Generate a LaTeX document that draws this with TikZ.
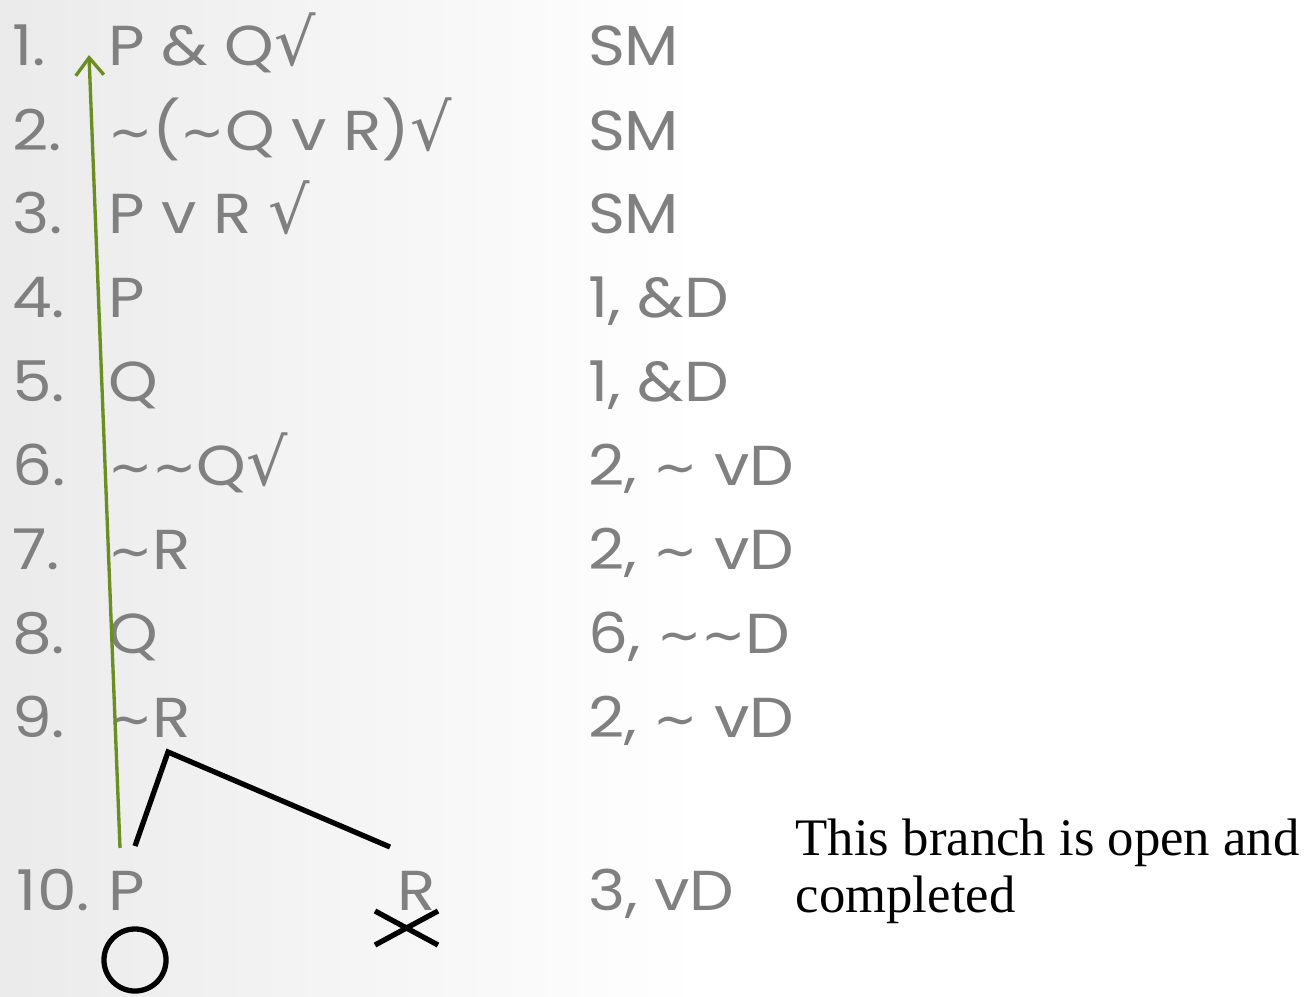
\documentclass[tikz,border=0pt]{standalone}
\usepackage{fontspec}
\setmainfont{Poppins}[FakeStretch=1.12]
\newfontfamily\djv{DejaVu Sans}
\newfontfamily\serifnote{Liberation Serif}
\usetikzlibrary{arrows.meta}
\definecolor{txtgray}{HTML}{808080}
\definecolor{arrgreen}{HTML}{6B8E23}
\newcommand{\chk}{{\djv\fontsize{18.5}{18}\selectfont √}}
\newcommand{\tl}{{\djv\fontsize{15}{18}\selectfont ∼}}
\tikzset{
  row/.style={anchor=base west, inner sep=0pt, outer sep=0pt, text=txtgray, font=\fontsize{16}{19}\selectfont},
  branchline/.style={line width=1.5pt, black},
  closemark/.style={line width=1.5pt, black},
  greenarrow/.style={line width=0.95pt, arrgreen, -{Straight Barb[length=5pt,width=8pt]}},
}
\begin{document}
\begin{tikzpicture}[x=0.01cm,y=-0.01cm]
\useasboundingbox (0,0) rectangle (1305,996);
\fill[white] (0,0) rectangle (1305,996);
\shade[left color=black!8, right color=white] (0,0) rectangle (700,996);
% line numbers
\foreach \i/\y in {1/65,2/150,3/233,4/317,5/401,6/485,7/569,8/653,9/737}{
  \node[row] (n\i) at (12,\y) {\i.};
}
\node[row] (n10) at (17,910) {10.};
% formulas
\node[row] (f1) at (108,65) {P \& Q\chk};
\node[row] (f2) at (108,150) {\tl(\tl Q v R)\chk};
\node[row] (f3) at (108,233) {P v R \chk};
\node[row] (f4) at (108,317) {P};
\node[row] (f5) at (108,401) {Q};
\node[row] (f6) at (108,485) {\tl\tl Q\chk};
\node[row] (f7) at (108,569) {\tl R};
\node[row] (f8) at (108,653) {Q};
\node[row] (f9) at (108,737) {\tl R};
\node[row] (f10a) at (108,910) {P};
\node[row] (f10b) at (397,910) {R};
% justifications
\node[row] (j1) at (588,65) {SM};
\node[row] (j2) at (588,150) {SM};
\node[row] (j3) at (588,233) {SM};
\node[row] (j4) at (588,317) {1, \&D};
\node[row] (j5) at (588,401) {1, \&D};
\node[row] (j6) at (588,485) {2, \tl{} vD};
\node[row] (j7) at (588,569) {2, \tl{} vD};
\node[row] (j8) at (588,653) {6, \tl\tl D};
\node[row] (j9) at (588,737) {2, \tl{} vD};
\node[row] (j10) at (588,910) {3, vD};
% note
\node[anchor=base west, inner sep=0pt, align=left, font=\serifnote\fontsize{15}{16.2}\selectfont] (note) at (795,912) {This branch is open and\\completed};
% branch
\coordinate (bl) at (135,846);
\coordinate (top) at (168,752);
\coordinate (br) at (390,847);
\draw[branchline] (bl) -- (top) -- (br);
% green arrow
\coordinate (gs) at (120,848);
\coordinate (ge) at (89,55);
\draw[greenarrow] (gs) -- (ge);
% open marker
\node[draw, circle, line width=1.5pt, inner sep=0pt, minimum size=0.62cm] (open) at (135,960) {};
% closed marker
\coordinate (x1) at (375,911);
\coordinate (x2) at (438,945);
\coordinate (x3) at (375,945);
\coordinate (x4) at (438,911);
\draw[closemark] (x1) -- (x2);
\draw[closemark] (x3) -- (x4);
\end{tikzpicture}
\end{document}
